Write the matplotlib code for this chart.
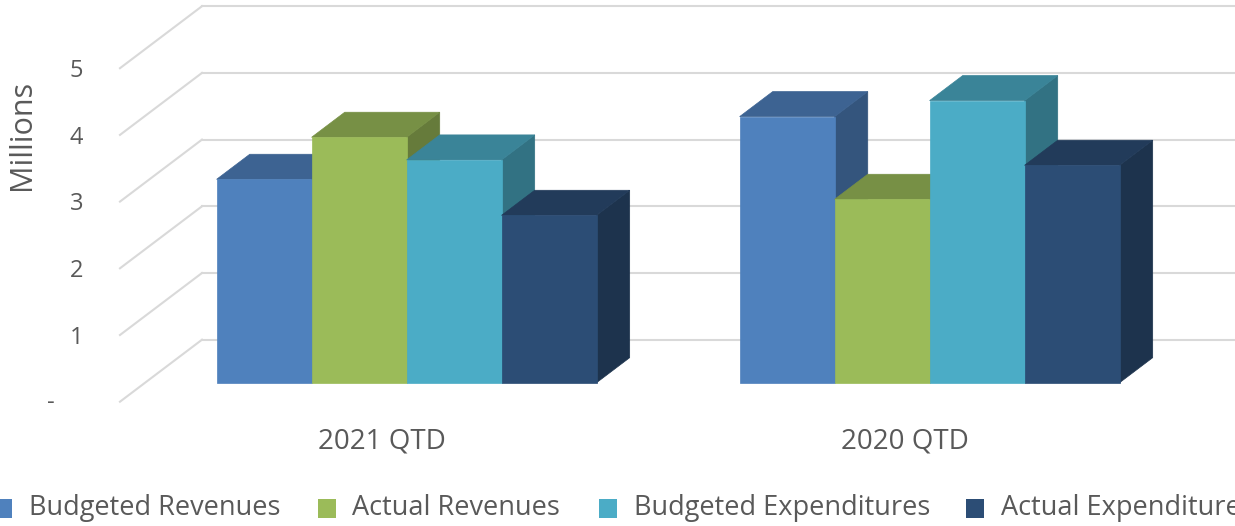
import matplotlib.pyplot as plt
from matplotlib.patches import Polygon, Rectangle
from matplotlib.colors import to_rgb

categories = ['2021 QTD', '2020 QTD']
series = ['Budgeted Revenues', 'Actual Revenues', 'Budgeted Expenditures', 'Actual Expenditures']
budgeted_revenues = [3.05, 3.99]
actual_revenues = [3.68, 2.75]
budgeted_expenditures = [3.34, 4.23]
actual_expenditures = [2.51, 3.26]
y_ticks = [0, 1, 2, 3, 4, 5]
y_tick_labels = ['-', '1', '2', '3', '4', '5']

values = [budgeted_revenues, actual_revenues, budgeted_expenditures, actual_expenditures]
colors = ['#4F81BD', '#9BBB59', '#4BACC6', '#2C4D75']
text_col = '#595959'
grid_col = '#D9D9D9'
plt.rcParams['font.family'] = ['Open Sans', 'DejaVu Sans']

W, H = 1235, 526
fig = plt.figure(figsize=(W / 100, H / 100), dpi=100)
ax = fig.add_axes([0, 0, 1, 1])
ax.set_xlim(-0.7294, 1.6319)
ax.set_ylim(-1.8636, 6.0225)
ax.axis('off')

# oblique 3d: depth z in [0, 1] shifts right and up
DX, DY = 0.1568, 0.9295


def proj(x, v, z):
    return (x + z * DX, v + z * DY)


def shade(c, f):
    r, g, b = to_rgb(c)
    return (r * f, g * f, b * f)


# walls
wall_x = -0.5
for v in y_ticks:
    ax.plot([wall_x, wall_x + DX], [v, v + DY], color=grid_col, lw=1.5, zorder=1)
    ax.plot([wall_x + DX, 2.0], [v + DY, v + DY], color=grid_col, lw=1.5, zorder=1)

for v, lab in zip(y_ticks, y_tick_labels):
    if lab == '-':
        ax.text(-0.6320, v - 0.02, lab, ha='center', va='center', fontsize=17, color=text_col)
    else:
        ax.text(-0.5707, v - 0.04, lab, ha='right', va='center', fontsize=17, color=text_col)

ax.text(-0.6880, 4.0, 'Millions', rotation=90, ha='center', va='center',
        fontsize=22, color=text_col)

# bars
w = 0.1816
z0, z1 = 0.306, 0.71
for i in range(len(categories)):
    for j in range(len(series)):
        x0 = i - 2 * w + j * w
        x1 = x0 + w
        v = values[j][i]
        c = colors[j]
        side = [proj(x1, 0, z0), proj(x1, 0, z1), proj(x1, v, z1), proj(x1, v, z0)]
        top = [proj(x0, v, z0), proj(x1, v, z0), proj(x1, v, z1), proj(x0, v, z1)]
        front = [proj(x0, 0, z0), proj(x1, 0, z0), proj(x1, v, z0), proj(x0, v, z0)]
        ax.add_patch(Polygon(side, closed=True, fc=shade(c, 0.66), ec=shade(c, 0.66), lw=0.5, zorder=3))
        ax.add_patch(Polygon(top, closed=True, fc=shade(c, 0.77), ec=shade(c, 0.77), lw=0.5, zorder=3))
        ax.add_patch(Polygon(front, closed=True, fc=c, ec=c, lw=0.5, zorder=3))

for i, cat in enumerate(categories):
    ax.text(i, -0.60, cat, ha='center', va='center', fontsize=20, color=text_col)

# legend (wider than the chart, clipped at both sides like the original)
sq_left = [-6, 318, 599, 966]
txt_left = [29, 352, 634, 1001]
for s, c, sx, tx in zip(series, colors, sq_left, txt_left):
    fig.patches.append(Rectangle((sx / W, 1 - 518 / H), 18 / W, 19 / H, transform=fig.transFigure,
                                 fc=c, ec='none'))
    fig.text(tx / W, 1 - 508 / H, s, ha='left', va='center', fontsize=19.5, color=text_col)

fig.savefig('out.png', dpi=100)
